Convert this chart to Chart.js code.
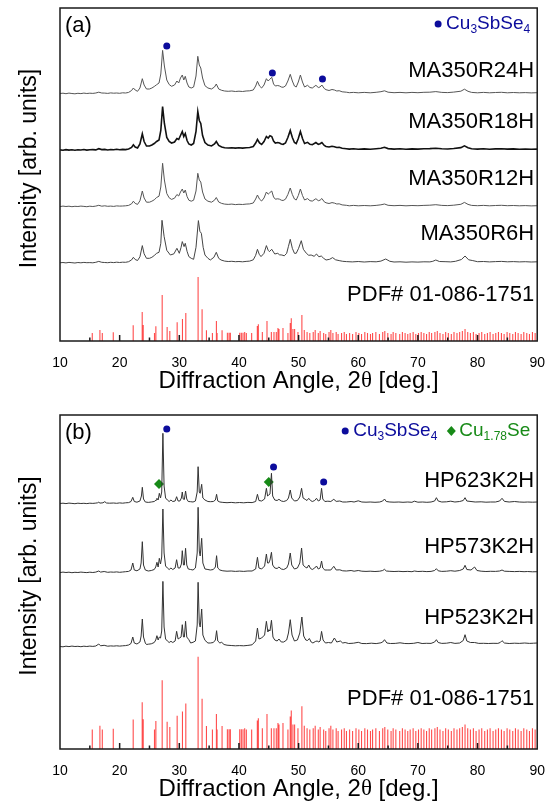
<!DOCTYPE html>
<html>
<head>
<meta charset="utf-8">
<script src="https://cdn.jsdelivr.net/npm/chart.js@4.4.1/dist/chart.umd.min.js"></script>
<style>
  body { margin: 0; background: #fff; }
  canvas { position: absolute; left: 0; }
</style>
</head>
<body>
<canvas id="chartA" width="551" height="400" style="top:0"></canvas>
<canvas id="chartB" width="551" height="402" style="top:400px"></canvas>
<script>
// eixo x: 2θ (graus)
const angleTicks = [10, 20, 30, 40, 50, 60, 70, 80, 90];

// PDF# 01-086-1751: [2θ, altura relativa]
const pdfLines = [
  [15.41, 8], [16.69, 11], [17.09, 8], [18.93, 8.7], [22.27, 15.7], [23.78, 29], [23.95, 16],
  [25.84, 8], [26.07, 14.7], [27.13, 46], [27.96, 14], [28.41, 10], [29.64, 18.7], [30.53, 22],
  [31.09, 28], [33.15, 64], [33.82, 31.7], [34.55, 10.7], [35.55, 8], [36.22, 20], [36.33, 8],
  [37.17, 10.7], [38.06, 8.3], [38.34, 8.3], [38.56, 8.3], [40.13, 8.3], [40.40, 8.3], [40.68, 8.3],
  [40.96, 9], [41.24, 8], [42.13, 8], [43.08, 15], [43.25, 16.7], [43.92, 9], [44.70, 20],
  [45.43, 9], [45.87, 9], [46.26, 9], [46.54, 13], [46.71, 12], [47.38, 13], [48.21, 8],
  [48.60, 18], [48.77, 22.7], [49.05, 12], [49.33, 12], [49.89, 9], [50.55, 26], [50.95, 11],
  [51.42, 9], [51.88, 8], [52.45, 9], [52.78, 11], [53.30, 8], [53.61, 10], [54.20, 8],
  [54.55, 7], [55.10, 9], [55.40, 11], [55.75, 8], [56.30, 9], [56.62, 7], [57.20, 8],
  [57.65, 9], [58.02, 7], [58.55, 8], [59.05, 7], [59.62, 9], [60.10, 8], [60.55, 7],
  [61.10, 9], [61.55, 8], [62.05, 7], [62.40, 8], [62.95, 9], [63.55, 7], [64.10, 9],
  [64.45, 10], [64.95, 8], [65.50, 7], [65.85, 9], [66.30, 8], [66.95, 7], [67.40, 9],
  [67.85, 8], [68.30, 7], [68.70, 8], [69.20, 9], [69.65, 7], [70.10, 8], [70.55, 9],
  [71.00, 8], [71.45, 7], [71.90, 9], [72.30, 8], [72.85, 9], [73.25, 10], [73.70, 8],
  [74.20, 7], [74.65, 9], [75.10, 8], [75.60, 7], [76.05, 9], [76.55, 8], [77.00, 9],
  [77.45, 10], [77.90, 12], [78.35, 9], [78.80, 8], [79.30, 9], [79.75, 7], [80.25, 8],
  [80.70, 9], [81.20, 7], [81.65, 8], [82.10, 9], [82.60, 7], [83.05, 8], [83.50, 9],
  [84.00, 8], [84.45, 7], [84.95, 9], [85.40, 8], [85.90, 7], [86.35, 9], [86.80, 8],
  [87.30, 7], [87.75, 9], [88.25, 8], [88.70, 7], [89.20, 9], [89.65, 8]
];

// (a) pós moídos: [2θ, intensidade]
const ma350r24h = [
  [10,0.5],[10.5,0.8],[11,0.3],[11.5,0.9],[12,0.5],[12.5,0.2],[13,0.7],[13.5,0.4],[14,0.9],[14.5,0.5],
  [15,0.8],[15.5,0.6],[16,1.0],[16.5,1.8],[17,1.0],[17.5,0.9],[18,0.6],[18.5,1.1],[19,0.8],[19.5,1.0],
  [20,0.7],[20.5,1.2],[21,1.0],[21.5,1.6],[22,3.5],[22.3,6],[22.6,4],[23,2.7],[23.4,6],[23.8,15.3],
  [24.1,9],[24.5,5],[25,5],[25.4,6],[25.8,7.5],[26.2,9.3],[26.6,11],[26.9,20],[27.2,43.6],[27.5,28],
  [27.9,14],[28.3,9.5],[28.7,7.7],[29.2,9],[29.6,13],[29.9,11],[30.2,16],[30.5,19],[30.75,14],[31.0,17.7],
  [31.3,11],[31.6,7],[32.0,6],[32.4,7],[32.8,18],[33.1,37.7],[33.35,29],[33.6,26],[33.9,16],[34.3,8.3],
  [34.8,6],[35.4,5],[35.9,7],[36.2,10],[36.6,5],[37.1,3.7],[37.6,3],[38.2,2.7],[38.8,3],[39.4,2.5],
  [40,2.8],[40.6,2.5],[41.2,3],[41.8,3.2],[42.4,4],[42.8,8],[43.1,12.7],[43.45,8],[43.8,6],[44.2,9],
  [44.6,15.3],[44.9,13],[45.1,14.3],[45.5,16.7],[45.8,10],[46.1,8],[46.5,8.5],[46.8,8],[47.1,7],[47.4,6.7],
  [47.8,8],[48.2,13],[48.6,19.7],[48.95,13],[49.3,8],[49.6,7],[49.95,12],[50.3,19],[50.65,12],[51.0,7],
  [51.5,8.7],[51.9,6.5],[52.3,6],[52.9,8.7],[53.3,6.5],[53.6,7],[53.9,9],[54.3,5.5],[54.6,4.3],[55.1,3.5],
  [55.6,4.5],[56.0,4],[56.4,3],[56.8,3.3],[57.3,2.2],[58,1.8],[58.5,1.3],[59.2,1.6],[60,1.2],[61,1.6],
  [62,1.2],[63,1.7],[63.8,2.3],[64.4,3.2],[65,1.8],[66,1.3],[67,1.6],[68,1.2],[69,1.6],[70,1.3],
  [71,1.7],[72,1.8],[73,2.4],[74,1.6],[75,1.4],[76,1.9],[77.2,2.8],[77.8,4.8],[78.4,2.7],[79,1.6],
  [80,1.2],[81,1.6],[82,1.2],[83,1.5],[84,1.7],[85,1.2],[86,1.5],[87,1.2],[88,1.4],[89,1.1],[90,1.3]
];
const ma350r18h = [
  [10,0.6],[10.5,0.2],[11,0.9],[11.5,0.4],[12,0.7],[12.5,0.3],[13,0.8],[13.5,0.5],[14,1.0],[14.5,0.4],
  [15,0.7],[15.5,0.9],[16,0.6],[16.5,1.8],[17,0.9],[17.5,1.1],[18,0.5],[18.5,1.0],[19,0.7],[19.5,1.2],
  [20,0.8],[20.5,1.1],[21,0.9],[21.5,1.5],[22,3],[22.3,5.7],[22.6,3.5],[23,2.5],[23.4,6.5],[23.8,16.7],
  [24.1,9],[24.5,4.5],[25,4.5],[25.4,5.5],[25.8,7],[26.2,9],[26.6,10.5],[26.9,20],[27.2,44],[27.5,27],
  [27.9,13],[28.3,9],[28.7,7.5],[29.2,8.5],[29.6,12],[29.9,11],[30.2,15],[30.5,19],[30.75,14],[31.0,17],
  [31.3,10],[31.6,6.5],[32.0,5.5],[32.4,7],[32.8,19],[33.1,39],[33.35,30],[33.6,27],[33.9,15],[34.3,8],
  [34.8,5.5],[35.4,4.5],[35.9,6.5],[36.2,9],[36.6,5],[37.1,3.5],[37.6,2.8],[38.2,2.5],[38.8,2.8],[39.4,2.4],
  [40,2.7],[40.6,2.4],[41.2,2.8],[41.8,3],[42.4,4],[42.8,7.5],[43.1,11],[43.45,7.5],[43.8,6],[44.2,9],
  [44.6,14],[44.9,12.5],[45.2,14.7],[45.5,14],[45.8,9.5],[46.1,7.5],[46.5,8],[46.8,7.5],[47.1,6.5],[47.4,6.2],
  [47.8,7.5],[48.2,13],[48.6,20],[48.95,13],[49.3,8],[49.6,7],[49.95,12],[50.3,19],[50.65,12],[51.0,7],
  [51.5,8.2],[51.9,6.2],[52.3,5.8],[52.9,8],[53.3,6.2],[53.6,6.8],[53.9,8],[54.3,5],[54.6,4],[55.1,3.5],
  [55.6,4.3],[56.0,3.8],[56.4,3],[56.8,3.2],[57.3,2.2],[58,1.8],[58.5,1.4],[59.2,1.7],[60,1.3],[61,1.6],
  [62,1.3],[63,1.8],[63.8,2.3],[64.4,3.2],[65,1.9],[66,1.4],[67,1.7],[68,1.3],[69,1.6],[70,1.4],
  [71,1.7],[72,1.9],[73,2.3],[74,1.7],[75,1.5],[76,2],[77.2,2.9],[77.8,4.7],[78.4,2.8],[79,1.7],
  [80,1.4],[81,1.7],[82,1.3],[83,1.6],[84,1.8],[85,1.4],[86,1.6],[87,1.3],[88,1.4],[89,1.2],[90,1.4]
];
const ma350r12h = [
  [10,0.4],[10.5,0.9],[11,0.5],[11.5,0.8],[12,0.3],[12.5,0.7],[13,0.5],[13.5,0.9],[14,0.6],[14.5,0.3],
  [15,0.8],[15.5,0.5],[16,0.9],[16.5,1.7],[17,0.8],[17.5,1.2],[18,0.7],[18.5,0.9],[19,0.6],[19.5,1.1],
  [20,0.9],[20.5,1.0],[21,1.2],[21.5,1.6],[22,3.2],[22.3,5.8],[22.6,3.6],[23,2.6],[23.4,6.2],[23.8,16],
  [24.1,9],[24.5,4.8],[25,4.8],[25.4,5.8],[25.8,7.2],[26.2,9.5],[26.6,10.8],[26.9,20],[27.2,43.7],[27.5,27],
  [27.9,13.5],[28.3,9.2],[28.7,7.6],[29.2,8.8],[29.6,12.5],[29.9,11],[30.2,15],[30.5,18],[30.75,14],[31.0,17],
  [31.3,10.5],[31.6,6.8],[32.0,5.8],[32.4,6.8],[32.8,16],[33.1,33.7],[33.35,27],[33.6,25],[33.9,15],[34.3,8],
  [34.8,5.8],[35.4,4.8],[35.9,6.8],[36.2,9.5],[36.6,5],[37.1,3.6],[37.6,2.9],[38.2,2.6],[38.8,2.9],[39.4,2.4],
  [40,2.7],[40.6,2.5],[41.2,2.9],[41.8,3.1],[42.4,4],[42.8,8],[43.1,12],[43.45,7.8],[43.8,6],[44.2,9],
  [44.6,15],[44.9,12.8],[45.1,14],[45.5,16],[45.8,10],[46.1,7.8],[46.5,8.2],[46.8,7.8],[47.1,6.8],[47.4,6.5],
  [47.8,7.8],[48.2,12.5],[48.6,19],[48.95,12.5],[49.3,8],[49.6,7],[49.95,11.5],[50.3,18],[50.65,11.5],[51.0,7],
  [51.5,8.4],[51.9,6.3],[52.3,5.9],[52.9,8.3],[53.3,6.3],[53.6,6.8],[53.9,8.5],[54.3,5.2],[54.6,4.2],[55.1,3.5],
  [55.6,4.4],[56.0,3.9],[56.4,3],[56.8,3.2],[57.3,2.1],[58,1.7],[58.5,1.2],[59.2,1.6],[60,1.2],[61,1.5],
  [62,1.2],[63,1.6],[63.8,2.2],[64.4,3],[65,1.7],[66,1.3],[67,1.6],[68,1.2],[69,1.5],[70,1.3],
  [71,1.6],[72,1.8],[73,2.3],[74,1.6],[75,1.4],[76,1.8],[77.2,2.7],[77.8,4.6],[78.4,2.6],[79,1.6],
  [80,1.3],[81,1.6],[82,1.2],[83,1.5],[84,1.7],[85,1.3],[86,1.5],[87,1.2],[88,1.4],[89,1.1],[90,1.3]
];
const ma350r6h = [
  [10,0.5],[10.5,0.8],[11,0.4],[11.5,0.9],[12,0.6],[12.5,0.3],[13,0.8],[13.5,0.5],[14,0.9],[14.5,0.6],
  [15,0.7],[15.5,0.5],[16,1.0],[16.5,1.9],[17,1.0],[17.5,0.8],[18,0.6],[18.5,1.0],[19,0.7],[19.5,1.1],
  [20,0.8],[20.5,1.1],[21,1.0],[21.5,1.6],[22,3.4],[22.3,6],[22.6,3.8],[23,2.8],[23.4,6.5],[23.8,17.7],
  [24.1,9.5],[24.5,5],[25,5],[25.4,6],[25.8,7.8],[26.2,10],[26.6,11],[26.9,20],[27.1,43],[27.45,27],
  [27.9,13],[28.5,8.3],[29.1,9.5],[29.6,15],[30.0,10],[30.3,16],[30.5,21.7],[30.8,16.7],[31.0,20],[31.3,12],
  [31.6,6.7],[32.0,5],[32.4,4],[32.8,16],[33.2,42.7],[33.45,32],[33.7,30],[34.0,16],[34.3,8.3],[34.8,5],
  [35.2,3.3],[35.8,6],[36.2,11],[36.6,5],[37,3.3],[37.6,2.2],[38.2,1.8],[38.8,2],[39.4,1.6],[40,1.8],
  [40.6,1.5],[41.2,1.9],[41.8,2.2],[42.4,3.5],[42.8,8],[43.1,14],[43.4,9],[43.7,6.7],[44.2,10],[44.6,17.7],
  [44.9,13],[45.1,11.7],[45.5,14],[46.0,9.3],[46.5,10],[46.8,8.5],[47.2,8.3],[47.6,7.5],[48.0,10],[48.3,17],
  [48.6,24],[48.95,15],[49.3,10],[49.6,10],[50.0,15],[50.45,22.6],[50.8,14],[51.3,10],[51.7,8],[52.1,8.3],
  [52.6,7],[53.0,9.3],[53.4,6.5],[53.8,7.3],[54.2,5],[54.6,3.3],[55.2,4],[55.7,5.7],[56.2,3.5],[56.8,2.7],
  [57.4,2],[58,1.7],[59,1.4],[60,1.8],[61,1.3],[62,1.7],[63,1.5],[63.8,2.2],[64.6,4.3],[65.3,2],
  [66,1.3],[67,1.5],[68,1.1],[69,1.4],[70,1.2],[71,1.5],[72,1.4],[72.5,2],[73,3.3],[73.6,1.8],
  [74.7,1.6],[75.5,1.4],[76.3,2],[77.3,3.8],[77.9,7.3],[78.5,3.5],[79.2,2.7],[80,1.6],[81,1.8],[82,1.4],
  [83,1.7],[84,1.9],[85,1.5],[86,1.7],[87,1.4],[88,1.6],[89,1.3],[90,1.5]
];

// (b) amostras prensadas: [2θ, intensidade]
const hp623k2h = [
  [10,0.5],[10.5,0.8],[11,0.4],[11.5,0.9],[12,0.6],[12.5,0.3],[13,0.8],[13.5,0.5],[14,0.7],[14.5,0.4],
  [15,0.8],[15.5,0.6],[16,0.9],[16.3,1.2],[16.5,1.8],[16.7,0.9],[17.2,1.2],[17.5,2.3],[17.8,1],[18.3,0.8],
  [19,1],[19.5,0.7],[20,1.1],[20.5,0.8],[21,1.2],[21.5,1.4],[21.9,2.5],[22.2,6.7],[22.45,2.5],[22.9,1.8],
  [23.4,3],[23.65,8],[23.8,16.7],[24.0,5],[24.3,2],[24.8,1.6],[25.3,2],[25.8,2.5],[26.1,4],[26.25,5.7],
  [26.45,4],[26.65,10.7],[26.85,6],[27.05,12],[27.25,70.7],[27.45,18],[27.7,6],[28.0,4],[28.3,2.5],[28.6,4],
  [28.9,2.5],[29.3,3],[29.55,7.3],[29.8,3],[30.1,3],[30.35,6],[30.5,12],[30.65,5],[30.85,4.5],[31.05,13],
  [31.25,5],[31.5,2.5],[31.9,2.3],[32.3,2],[32.7,3],[33.0,12],[33.15,37.3],[33.35,12],[33.5,10.7],[33.75,19.7],
  [33.95,6],[34.3,4],[34.8,2.5],[35.2,2.3],[35.7,2.5],[36.05,4],[36.25,9.7],[36.45,3],[36.8,2],[37.3,1.6],
  [38,1.3],[38.7,1.6],[39.4,1.2],[40.1,1.5],[40.8,1.2],[41.5,1.6],[42.2,1.4],[42.8,2.5],[43.1,9.7],[43.35,3.5],
  [43.8,3],[44.3,5],[44.6,15.7],[44.8,8],[45.0,9],[45.2,10],[45.45,30.7],[45.65,8],[46.0,4],[46.4,3.5],
  [46.7,4.7],[47.1,3],[47.5,2.5],[48.0,3.5],[48.3,6],[48.6,14],[48.85,6],[49.3,3],[49.8,3.5],[50.2,7],
  [50.5,15.7],[50.75,6],[51.1,4.7],[51.4,3.5],[51.7,5.7],[52.0,3.5],[52.3,2.5],[52.7,3.5],[53.0,5.7],[53.3,3],
  [53.6,4],[53.85,15.7],[54.05,5],[54.4,2.5],[54.9,2.8],[55.4,2.5],[55.9,4.7],[56.3,2.6],[56.9,3],[57.4,2],
  [58.0,2],[58.8,2.5],[59.3,2],[60,3.2],[60.6,2],[61.3,1.8],[62,2],[62.8,1.7],[63.6,2],[64.1,3],
  [64.4,5],[64.7,2.5],[65.3,2],[66,1.8],[66.8,2],[67.5,1.7],[68.3,2],[69,1.7],[69.4,2.8],[70,1.8],
  [70.8,2],[71.5,1.7],[72.2,2],[72.8,3],[73.1,6.3],[73.4,3],[74,2],[74.8,2.2],[75.5,2.8],[76.2,2],
  [77,2.5],[77.6,3.5],[77.9,6.3],[78.2,3],[78.9,2.5],[79.6,2],[80.6,2.2],[81.4,1.8],[82.2,2],[83,2],
  [83.7,3],[84.1,5.7],[84.5,2.6],[85.3,2],[86.2,2.5],[87,2],[87.8,1.8],[88.4,2],[89.2,1.8],[90,2]
];
const hp573k2h = [
  [10,0.4],[10.5,0.9],[11,0.5],[11.5,0.8],[12,0.3],[12.5,0.7],[13,0.5],[13.5,0.9],[14,0.6],[14.5,0.4],
  [15,0.8],[15.5,0.5],[16,0.9],[16.5,2],[16.8,0.9],[17.4,1.5],[18,0.7],[18.5,1],[19,0.8],[19.5,1.1],
  [20,0.7],[20.5,1],[21,1.3],[21.5,1.6],[21.9,3],[22.2,10],[22.45,3],[22.9,2.2],[23.4,4],[23.6,10],
  [23.8,31.3],[24.0,8],[24.3,3],[24.8,2],[25.3,2.5],[25.8,3.5],[26.05,6],[26.25,10.7],[26.45,6],[26.65,14.7],
  [26.85,9],[27.05,16],[27.25,64],[27.45,20],[27.7,7],[28.0,5],[28.3,3.5],[28.6,5],[28.9,3.5],[29.3,5],
  [29.55,13.3],[29.8,5],[30.1,5],[30.35,9],[30.5,22.3],[30.7,8],[30.85,8],[31.05,24.7],[31.25,8],[31.5,4],
  [31.9,3.5],[32.3,3],[32.7,5],[33.0,20],[33.15,65.7],[33.35,22],[33.5,17],[33.75,34.7],[33.95,10],[34.3,4],
  [34.8,3.5],[35.2,3],[35.7,3.5],[36.05,6],[36.25,17.3],[36.45,5],[36.8,3],[37.3,2.2],[38,1.8],[38.7,2],
  [39.4,1.6],[40.1,1.9],[40.8,1.6],[41.5,2],[42.2,2],[42.8,4],[43.1,15.7],[43.35,5],[43.8,4],[44.3,7],
  [44.6,19],[44.8,10],[45.0,10],[45.2,13],[45.45,20.7],[45.65,8],[46.0,5],[46.4,4.5],[46.7,6],[47.1,4],
  [47.5,3.5],[48.0,5],[48.3,9],[48.6,20],[48.85,8],[49.3,4],[49.8,5],[50.2,10],[50.5,25],[50.75,8],
  [51.1,6],[51.4,5],[51.7,8],[52.0,4.5],[52.3,3.5],[52.7,5],[53.0,7],[53.3,4],[53.6,5],[53.85,12],
  [54.05,5],[54.4,3],[54.9,3],[55.4,3],[55.9,6.7],[56.3,3],[56.9,3.2],[57.4,2.2],[58.0,2],[58.8,2.5],
  [59.3,1.8],[60,2.5],[60.6,1.8],[61.3,1.6],[62,1.8],[62.8,1.5],[63.6,1.8],[64.1,2.5],[64.4,3.7],[64.7,2],
  [65.3,1.7],[66,1.5],[66.8,1.7],[67.5,1.4],[68.3,1.6],[69,1.3],[69.4,2],[70,1.5],[70.8,1.7],[71.5,1.4],
  [72.2,1.6],[72.8,2.5],[73.1,4.3],[73.4,2.2],[74,1.6],[74.8,1.8],[75.5,2.3],[76.2,1.8],[77,2.5],[77.6,4],
  [77.9,7.7],[78.2,3.5],[78.9,3],[79.5,6],[79.9,2.5],[80.6,1.8],[81.4,1.5],[82.2,1.7],[83,1.6],[83.7,2],
  [84.1,3],[84.5,1.8],[85.3,1.6],[86.2,1.4],[87,1.6],[87.8,1.3],[88.4,1.5],[89.2,1.2],[90,1.3]
];
const hp523k2h = [
  [10,0.5],[10.5,0.2],[11,0.8],[11.5,0.4],[12,0.9],[12.5,0.5],[13,0.7],[13.5,0.3],[14,0.8],[14.5,0.5],
  [15,0.9],[15.5,0.6],[16,1],[16.5,3],[16.8,1.2],[17.4,1.7],[18,0.8],[18.5,1.1],[19,0.9],[19.5,1.2],
  [20,0.9],[20.5,1.2],[21,1.4],[21.5,2],[21.9,3.5],[22.2,10],[22.45,4],[22.9,3],[23.4,5],[23.6,11],
  [23.8,28],[24.0,10],[24.3,4],[24.5,2.5],[24.8,2.8],[25.3,3.2],[25.8,4.5],[26.05,7],[26.25,11.3],[26.45,7],
  [26.65,10],[26.85,9],[27.05,16],[27.25,65.6],[27.45,20],[27.7,8],[28.0,6],[28.3,4.5],[28.6,5.7],[28.9,4.5],
  [29.3,6],[29.55,15.7],[29.8,8],[30.05,9],[30.3,10],[30.5,22.3],[30.7,10],[30.85,10],[31.05,25.7],[31.25,10],
  [31.6,7.3],[31.9,4],[32.3,4.7],[32.7,6],[33.0,22],[33.15,64.7],[33.35,24],[33.5,20],[33.75,38],[33.95,12],
  [34.3,6.7],[34.8,4],[35.2,4],[35.7,4.5],[36.05,7],[36.25,16.3],[36.45,6],[36.8,4],[37.1,4.7],[37.5,2.5],
  [38,1.8],[38.7,1.5],[39.4,1.2],[40.1,1.4],[40.8,1.2],[41.5,1.6],[42.2,2.2],[42.8,6],[43.1,19],[43.35,8],
  [43.8,9],[44.3,12],[44.6,25.7],[44.85,15],[45.0,17.3],[45.2,16],[45.45,26.7],[45.7,10],[46.0,7],[46.4,6],
  [46.7,8],[47.1,5],[47.5,5],[48.0,7],[48.3,14],[48.6,27.3],[48.9,12],[49.3,6],[49.8,7],[50.2,14],
  [50.55,30],[50.85,11],[51.2,7],[51.5,6.5],[51.8,8.5],[52.1,5],[52.4,4],[52.8,5.5],[53.1,6],[53.4,5],
  [53.6,6],[53.85,15.6],[54.1,7],[54.5,4],[55.0,4.5],[55.5,4],[56.0,9],[56.4,5],[57.0,6],[57.4,4],
  [57.8,4.5],[58.4,3.5],[59.2,3.8],[60.0,4.7],[60.6,3.5],[61.4,3.4],[62.2,3.8],[63,3.4],[63.8,4.2],[64.1,5],
  [64.4,7.3],[64.8,4],[65.4,3.5],[66.2,3.6],[67,4.2],[67.8,3.5],[68.5,3.4],[69.3,3.7],[70,4.5],[70.7,3.5],
  [71.4,3.7],[72.2,3.6],[72.8,5],[73.1,7.3],[73.4,4.5],[74,3.6],[74.8,3.8],[75.5,4.5],[76.2,3.6],[77,4],
  [77.6,6.5],[77.9,12.3],[78.2,6],[78.8,4.5],[79.5,4.5],[80.2,3.6],[81,3.7],[81.8,3.5],[82.6,3.7],[83.4,3.6],
  [83.8,4.5],[84.1,6.3],[84.5,4],[85.3,3.5],[86.2,3.8],[87,3.6],[87.9,4],[88.7,3.6],[89.4,3.8],[90,4]
];

// deslocamento vertical de cada curva
const offsetsA = [247, 190.5, 134, 77.7];
const offsetsB = [245, 176, 102];
const namesA = ['MA350R24H', 'MA350R18H', 'MA350R12H', 'MA350R6H'];
const namesB = ['HP623K2H', 'HP573K2H', 'HP523K2H'];
const pdfName = 'PDF# 01-086-1751';

// marcadores de fase [2θ, intensidade]
const cu3sbse4A = [[27.9, 295], [45.6, 268], [54.0, 262]];
const cu3sbse4B = [[27.9, 320], [45.8, 282], [54.2, 267]];
const cu178seB = [[26.6, 265], [45.0, 267]];

const SANS = '"Liberation Sans", Arial, sans-serif';
const SERIF = '"Liberation Serif", "DejaVu Serif", serif';
const BLUE = '#0c0c9c';
const GREEN = '#178a17';

function runsWidth(ctx, runs) {
  let w = 0;
  runs.forEach(r => { ctx.font = r.font; w += ctx.measureText(r.t).width; });
  return w;
}
function drawRuns(ctx, runs, x, y, color) {
  runs.forEach(r => {
    ctx.font = r.font;
    ctx.fillStyle = color;
    ctx.fillText(r.t, x, y + (r.dy || 0));
    x += ctx.measureText(r.t).width;
  });
}
const big = '19px ' + SANS, sub = '12px ' + SANS;
const cu3Runs = [{t:'Cu',font:big},{t:'3',font:sub,dy:6},{t:'SbSe',font:big},{t:'4',font:sub,dy:6}];
const cu178Runs = [{t:'Cu',font:big},{t:'1.78',font:sub,dy:6},{t:'Se',font:big}];

function makePanel(id, cfg) {
  const datasets = [];
  cfg.patterns.forEach((p, i) => {
    datasets.push({
      data: p.map(([x, v]) => ({ x, y: v + cfg.offsets[i] })),
      borderColor: cfg.colors[i], borderWidth: cfg.widths[i],
      pointRadius: 0, tension: 0, fill: false
    });
  });
  const sticks = [];
  pdfLines.forEach(([x, h]) => {
    sticks.push({ x, y: 0 }, { x, y: h * cfg.stickScale + cfg.stickBase }, { x, y: null });
  });
  datasets.push({ data: sticks, borderColor: 'rgba(255,45,45,0.85)', borderWidth: 1.1,
    pointRadius: 0, spanGaps: false, tension: 0 });
  cfg.markers.forEach(m => {
    datasets.push({
      data: m.points.map(([x, y]) => ({ x, y })), showLine: false,
      pointStyle: m.style, pointRadius: m.r, pointHoverRadius: m.r,
      backgroundColor: m.color, borderColor: m.color, borderWidth: 0
    });
  });

  const decor = {
    id: 'decor',
    afterDatasetsDraw(chart) {
      const { ctx, chartArea: a, scales: { x } } = chart;
      ctx.save();
      ctx.strokeStyle = '#1a1a1a';
      ctx.lineWidth = 1.5;
      ctx.strokeRect(a.left, a.top, a.right - a.left, a.bottom - a.top);
      for (let v = 15; v < 90; v += 5) {
        const px = x.getPixelForValue(v);
        const len = v % 10 === 0 ? 6 : 3.5;
        ctx.beginPath(); ctx.moveTo(px, a.bottom); ctx.lineTo(px, a.bottom - len); ctx.stroke();
      }
      ctx.restore();
    },
    afterDraw(chart) {
      const { ctx, chartArea: a, scales: { y } } = chart;
      ctx.save();
      ctx.textBaseline = 'middle';
      // letra do painel
      ctx.font = '22px ' + SANS; ctx.fillStyle = '#000'; ctx.textAlign = 'left';
      ctx.fillText(cfg.letter, a.left + 5, a.top + 18);
      // nomes das amostras
      ctx.textAlign = 'right';
      cfg.names.forEach((n, i) => {
        ctx.fillText(n, a.right - 3, y.getPixelForValue(cfg.labelY[i]));
      });
      // legenda
      ctx.textAlign = 'left';
      let xr = a.right - 7;
      const ly = a.top + 16;
      for (let k = cfg.legend.length - 1; k >= 0; k--) {
        const it = cfg.legend[k];
        const w = runsWidth(ctx, it.runs);
        drawRuns(ctx, it.runs, xr - w, ly, it.color);
        const mx = xr - w - 8;
        ctx.fillStyle = it.color;
        ctx.beginPath();
        if (it.style === 'circle') ctx.arc(mx, ly, 3.5, 0, Math.PI * 2);
        else { ctx.moveTo(mx, ly - 5); ctx.lineTo(mx + 4.5, ly); ctx.lineTo(mx, ly + 5); ctx.lineTo(mx - 4.5, ly); ctx.closePath(); }
        ctx.fill();
        xr = mx - 14;
      }
      // título do eixo x
      const xr2 = [
        { t: 'Diffraction Angle, 2', font: '24px ' + SANS },
        { t: 'θ', font: '23px ' + SERIF },
        { t: ' [deg.]', font: '24px ' + SANS }
      ];
      const tw = runsWidth(ctx, xr2);
      drawRuns(ctx, xr2, (a.left + a.right) / 2 - tw / 2, a.bottom + 40, '#000');
      // título do eixo y
      ctx.translate(30, (a.top + a.bottom) / 2 - 6);
      ctx.rotate(-Math.PI / 2);
      ctx.textAlign = 'center';
      ctx.font = '23px ' + SANS; ctx.fillStyle = '#000';
      ctx.fillText('Intensity [arb. units]', 0, 0);
      ctx.restore();
    }
  };

  return new Chart(document.getElementById(id), {
    type: 'line',
    data: { datasets },
    options: {
      responsive: false, animation: false, devicePixelRatio: 1,
      events: [],
      layout: { padding: { left: 60, right: 13, top: cfg.top, bottom: 0 } },
      plugins: { legend: { display: false }, tooltip: { enabled: false } },
      scales: {
        x: {
          type: 'linear', min: 10, max: 90,
          afterBuildTicks: s => { s.ticks = angleTicks.map(v => ({ value: v })); },
          afterFit: s => { s.height = cfg.axisH; },
          grid: { display: false }, border: { display: false },
          ticks: { color: '#000', padding: 6, font: { family: 'Liberation Sans', size: 14 } }
        },
        y: { min: 0, max: cfg.ymax, display: false }
      }
    },
    plugins: [decor]
  });
}

makePanel('chartA', {
  patterns: [ma350r24h, ma350r18h, ma350r12h, ma350r6h],
  offsets: offsetsA,
  colors: ['#555', '#111', '#555', '#444'],
  widths: [1, 1.6, 1, 1],
  names: namesA.concat([pdfName]),
  labelY: [270, 219, 162, 107, 46],
  stickScale: 1, stickBase: 0,
  markers: [{ points: cu3sbse4A, style: 'circle', r: 3.5, color: BLUE }],
  legend: [{ runs: cu3Runs, color: BLUE, style: 'circle' }],
  letter: '(a)', top: 8, axisH: 59, ymax: 333
});

makePanel('chartB', {
  patterns: [hp623k2h, hp573k2h, hp523k2h],
  offsets: offsetsB,
  colors: ['#333', '#333', '#333'],
  widths: [1, 1, 1],
  names: namesB.concat([pdfName]),
  labelY: [268, 202, 131, 50],
  stickScale: 1.3, stickBase: 9,
  markers: [
    { points: cu3sbse4B, style: 'circle', r: 3.5, color: BLUE },
    { points: cu178seB, style: 'rectRot', r: 5, color: GREEN }
  ],
  legend: [
    { runs: cu3Runs, color: BLUE, style: 'circle' },
    { runs: cu178Runs, color: GREEN, style: 'diamond' }
  ],
  letter: '(b)', top: 15, axisH: 53, ymax: 334
});
</script>
</body>
</html>
